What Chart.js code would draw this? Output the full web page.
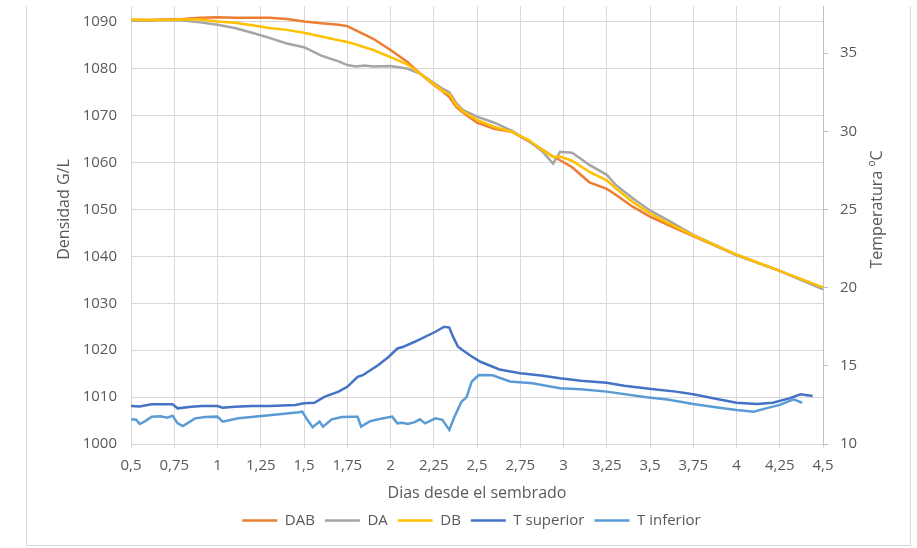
<!DOCTYPE html>
<html lang="es">
<head>
    <meta charset="UTF-8">
    <title>Densidad y temperatura</title>
    <script src="https://cdn.jsdelivr.net/npm/chart.js@4"></script>
    <style>
        html, body { margin: 0; padding: 0; background: #fff; }
        body { width: 917px; height: 548px; position: relative; overflow: hidden; }
        #recorte { position: absolute; left: 0; top: 6px; width: 917px; height: 542px; overflow: hidden; }
        #lienzo { position: absolute; left: 0; top: -37px; width: 917px; height: 579px; }
        #marco { position: absolute; left: 26px; top: 6px; width: 883px; height: 539px;
                 border: 1px solid #d9d9d9; border-top: none; pointer-events: none; }
    </style>
</head>
<body>
    <div id="recorte">
        <div id="lienzo"><canvas id="grafico" width="917" height="579"></canvas></div>
    </div>
    <div id="marco"></div>

    <script>
        // Dias desde el sembrado (densidades)
        const dias = [0.5, 0.6, 0.7, 0.8, 0.9, 1.0, 1.1, 1.2, 1.3, 1.4, 1.5, 1.6, 1.7, 1.75, 1.8, 1.85,
            1.9, 2.0, 2.1, 2.17, 2.25, 2.3, 2.34, 2.38, 2.42, 2.5, 2.6, 2.7, 2.8, 2.88, 2.94, 2.98,
            3.05, 3.15, 3.25, 3.3, 3.4, 3.5, 3.6, 3.75, 4.0, 4.25, 4.5];

        // Densidad G/L
        const dab = [1090.4, 1090.4, 1090.5, 1090.6, 1090.9, 1091.0, 1090.9, 1090.9, 1090.9, 1090.6, 1090.1, 1089.7,
            1089.4, 1089.1, 1088.2, 1087.3, 1086.4, 1084.0, 1081.4, 1079.0, 1076.6, 1075.2, 1074.0, 1071.9,
            1070.6, 1068.5, 1067.2, 1066.6, 1064.5, 1062.7, 1061.3, 1060.5, 1059.0, 1055.8, 1054.4, 1053.2,
            1050.6, 1048.5, 1046.8, 1044.3, 1040.3, 1036.9, 1033.2];
        const da = [1090.3, 1090.3, 1090.4, 1090.3, 1089.9, 1089.4, 1088.7, 1087.7, 1086.6, 1085.4, 1084.6, 1082.8,
            1081.6, 1080.8, 1080.5, 1080.7, 1080.5, 1080.6, 1080.0, 1079.0, 1077.0, 1075.8, 1075.0, 1072.7,
            1071.2, 1069.8, 1068.5, 1066.8, 1064.6, 1062.3, 1059.8, 1062.3, 1062.1, 1059.5, 1057.4, 1055.3,
            1052.4, 1049.8, 1047.8, 1044.6, 1040.3, 1036.9, 1033.0];
        const db = [1090.5, 1090.4, 1090.4, 1090.5, 1090.5, 1090.1, 1089.8, 1089.3, 1088.7, 1088.3, 1087.7, 1086.9,
            1086.1, 1085.7, 1085.2, 1084.6, 1084.0, 1082.5, 1080.9, 1079.0, 1076.8, 1075.3, 1074.6, 1072.3,
            1070.9, 1069.1, 1067.6, 1066.6, 1064.8, 1062.6, 1061.2, 1061.3, 1060.4, 1058.0, 1056.2, 1054.6,
            1051.6, 1049.2, 1047.2, 1044.5, 1040.4, 1036.9, 1033.4];

        // Temperatura ºC
        const diasTSup = [0.5, 0.55, 0.62, 0.74, 0.77, 0.85, 0.91, 1.0, 1.03, 1.1, 1.2, 1.3, 1.45, 1.5, 1.56, 1.62,
            1.7, 1.75, 1.81, 1.84, 1.87, 1.93, 1.99, 2.04, 2.07, 2.14, 2.26, 2.31, 2.34, 2.36, 2.39, 2.43,
            2.47, 2.52, 2.63, 2.75, 2.87, 2.98, 3.1, 3.25, 3.35, 3.52, 3.65, 3.75, 3.88, 4.0, 4.12, 4.21,
            4.3, 4.37, 4.44];
        const tSuperior = [12.43, 12.40, 12.54, 12.54, 12.28, 12.38, 12.43, 12.43, 12.32, 12.38, 12.43, 12.43, 12.49,
            12.6, 12.64, 13.03, 13.35, 13.66, 14.3, 14.4, 14.62, 15.05, 15.58, 16.11, 16.2, 16.54, 17.18, 17.5,
            17.45, 16.9, 16.22, 15.9, 15.6, 15.26, 14.77, 14.52, 14.38, 14.2, 14.05, 13.92, 13.72, 13.5, 13.35,
            13.18, 12.9, 12.64, 12.56, 12.64, 12.9, 13.18, 13.07];

        const diasTInf = [0.5, 0.53, 0.55, 0.58, 0.62, 0.67, 0.71, 0.74, 0.77, 0.8, 0.87, 0.93, 1.0, 1.03, 1.12, 1.3,
            1.47, 1.49, 1.52, 1.55, 1.59, 1.61, 1.66, 1.72, 1.78, 1.81, 1.83, 1.88, 1.93, 2.01, 2.04, 2.07,
            2.1, 2.14, 2.17, 2.2, 2.26, 2.3, 2.34, 2.37, 2.41, 2.44, 2.47, 2.51, 2.59, 2.69, 2.82, 2.98, 3.1,
            3.25, 3.48, 3.6, 3.75, 3.88, 4.0, 4.1, 4.17, 4.25, 4.33, 4.38];
        const tInferior = [11.58, 11.55, 11.28, 11.45, 11.75, 11.77, 11.68, 11.81, 11.32, 11.15, 11.64, 11.72, 11.75,
            11.43, 11.64, 11.84, 12.03, 12.07, 11.53, 11.07, 11.43, 11.11, 11.58, 11.72, 11.75, 11.75, 11.11,
            11.45, 11.58, 11.75, 11.32, 11.36, 11.28, 11.4, 11.58, 11.32, 11.64, 11.55, 10.9, 11.75, 12.7, 13.0,
            14.0, 14.41, 14.4, 14.0, 13.88, 13.56, 13.5, 13.35, 12.99, 12.85, 12.56, 12.35, 12.17, 12.07, 12.28,
            12.5, 12.86, 12.64];

        const gris = '#595959';
        const rejilla = '#d9d9d9';

        function puntos(xs, ys) {
            return xs.map((x, i) => ({ x: x, y: ys[i] }));
        }

        function serie(nombre, xs, ys, color, eje, orden) {
            return {
                label: nombre,
                data: puntos(xs, ys),
                borderColor: color,
                backgroundColor: color,
                borderWidth: 2.5,
                pointRadius: 0,
                tension: 0,
                yAxisID: eje,
                order: orden
            };
        }

        // Titulo del eje derecho, leido de abajo hacia arriba
        const tituloDerecho = {
            id: 'tituloDerecho',
            afterDraw(chart) {
                const ctx = chart.ctx;
                const area = chart.chartArea;
                ctx.save();
                ctx.translate(877, (area.top + area.bottom) / 2);
                ctx.rotate(-Math.PI / 2);
                ctx.font = '16px "Open Sans"';
                ctx.fillStyle = gris;
                ctx.textAlign = 'center';
                ctx.textBaseline = 'middle';
                ctx.fillText('Temperatura ºC', 0, 0);
                ctx.restore();
            }
        };

        // Ancho fijo de los ejes verticales, sin margen extra arriba/abajo
        function anchoFijo(ancho) {
            return s => {
                s.width = ancho;
                s.paddingTop = 0;
                s.paddingBottom = 0;
            };
        }

        Chart.defaults.font.family = '"Open Sans", sans-serif';
        Chart.defaults.font.size = 15;
        Chart.defaults.color = gris;

        new Chart(document.getElementById('grafico'), {
            type: 'line',
            data: {
                datasets: [
                    serie('DAB', dias, dab, '#ED7D31', 'y', 5),
                    serie('DA', dias, da, '#A5A5A5', 'y', 4),
                    serie('DB', dias, db, '#FFC000', 'y', 3),
                    serie('T superior', diasTSup, tSuperior, '#4472C4', 'y1', 2),
                    serie('T inferior', diasTInf, tInferior, '#5B9BD5', 'y1', 1)
                ]
            },
            options: {
                responsive: false,
                animation: false,
                devicePixelRatio: 1,
                layout: { padding: { top: 6, left: 26, right: 0, bottom: 10 } },
                plugins: {
                    tooltip: { enabled: false },
                    legend: {
                        position: 'bottom',
                        labels: {
                            usePointStyle: true,
                            pointStyle: 'line',
                            pointStyleWidth: 35,
                            padding: 10,
                            color: gris,
                            font: { size: 15 },
                            sort: (a, b) => a.datasetIndex - b.datasetIndex
                        }
                    }
                },
                scales: {
                    x: {
                        type: 'linear',
                        min: 0.5,
                        max: 4.5,
                        afterFit: s => { s.height = 59; },
                        ticks: {
                            stepSize: 0.25,
                            autoSkip: false,
                            maxRotation: 0,
                            padding: 9,
                            callback: v => String(v).replace('.', ',')
                        },
                        grid: { color: rejilla, tickLength: 4 },
                        border: { color: rejilla },
                        title: {
                            display: true,
                            text: 'Dias desde el sembrado',
                            font: { size: 16 },
                            padding: { top: 0, bottom: 0 }
                        }
                    },
                    y: {
                        position: 'left',
                        min: 1000,
                        max: 1100,
                        afterFit: anchoFijo(105),
                        ticks: { stepSize: 10, padding: 14, callback: v => String(v) },
                        grid: { color: rejilla, drawTicks: false },
                        border: { color: rejilla },
                        title: {
                            display: true,
                            text: 'Densidad G/L',
                            font: { size: 16 },
                            padding: { top: 29, bottom: 0 }
                        }
                    },
                    y1: {
                        position: 'right',
                        min: 10,
                        max: 40,
                        afterFit: anchoFijo(94),
                        ticks: { stepSize: 5, padding: 12, callback: v => String(v) },
                        grid: { drawOnChartArea: false, color: '#bfbfbf', tickLength: 5 },
                        border: { color: '#bfbfbf' }
                    }
                }
            },
            plugins: [tituloDerecho]
        });
    </script>
</body>
</html>
